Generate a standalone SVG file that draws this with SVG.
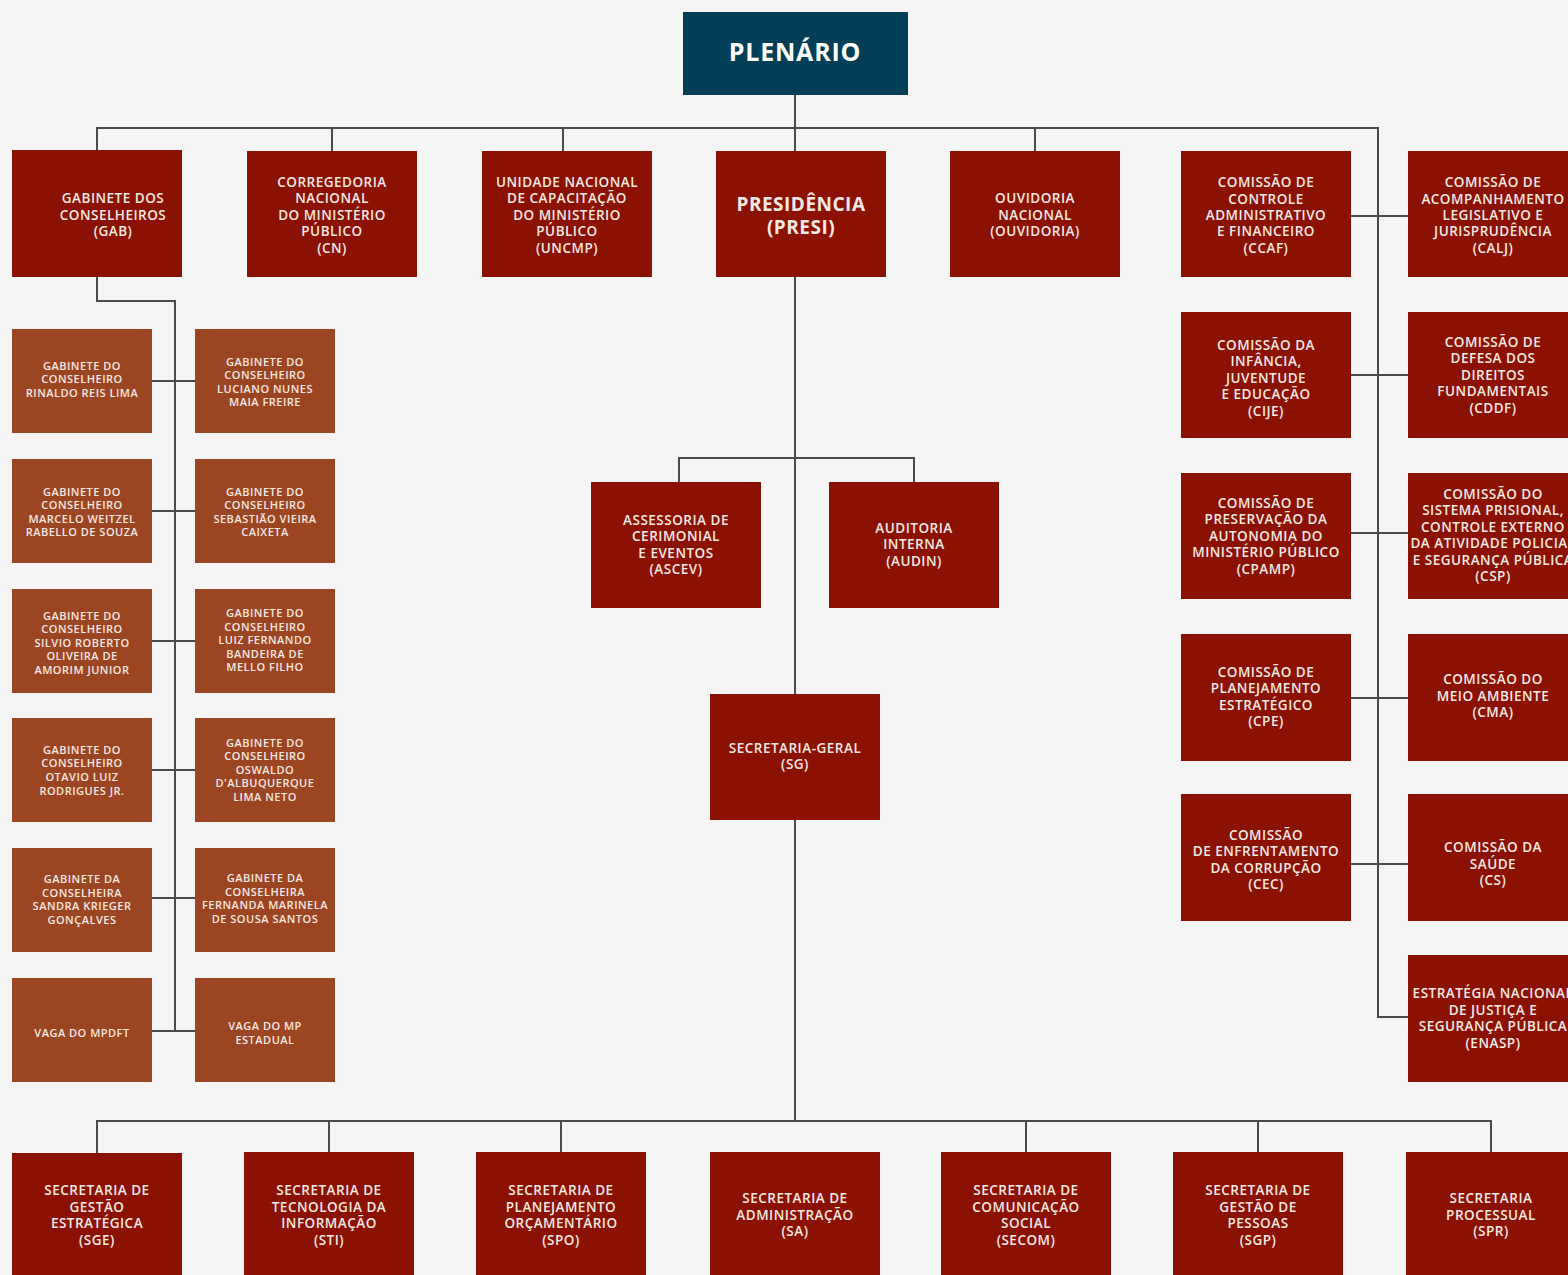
<svg xmlns="http://www.w3.org/2000/svg" width="1568" height="1275" viewBox="0 0 1568 1275">
<style>
.bg{fill:#f5f5f5}
.r{fill:#8b1102}
.g{fill:#9c4522}
.p{fill:#023f56}
.t{font-family:"Open Sans","DejaVu Sans",sans-serif;font-weight:600;fill:#f5e9e4;text-anchor:middle;font-size:13.5px;letter-spacing:0.5px}
.s{font-size:11px;letter-spacing:0.5px}
.b{font-weight:700;font-size:19px;letter-spacing:0.5px}
.pl{font-weight:700;font-size:25px;letter-spacing:0.8px;fill:#ffffff}
.c{fill:none;stroke:#4a4a4a;stroke-width:2}
</style>
<rect class="bg" x="0" y="0" width="1568" height="1275"/>
<g id="connectors">
<path class="c" d="M795 95V151"/>
<path class="c" d="M97 150V128H1378V1017H1408"/>
<path class="c" d="M332 128V151M563 128V151M1035 128V151"/>
<path class="c" d="M1351 216H1408M1351 375H1408M1351 533H1408M1351 698H1408M1351 864H1408"/>
<path class="c" d="M97 277V301H175V1031"/>
<path class="c" d="M152 381H195M152 511H195M152 641H195M152 770H195M152 898H195M152 1031H195"/>
<path class="c" d="M795 277V694M679 482V458H914V482"/>
<path class="c" d="M795 820V1121M97 1153V1121H1491V1152M329 1121V1152M561 1121V1152M1026 1121V1152M1258 1121V1152"/>
</g>
<g id="plenario"><rect class="p" x="683" y="12" width="225" height="83"/><text class="t pl" x="795" y="61">PLENÁRIO</text></g>
<g id="gab"><rect class="r" x="12" y="150" width="170" height="127"/><text class="t"><tspan x="113" y="203">GABINETE DOS</tspan><tspan x="113" y="220">CONSELHEIROS</tspan><tspan x="113" y="236">(GAB)</tspan></text></g>
<g id="cn"><rect class="r" x="247" y="151" width="170" height="126"/><text class="t"><tspan x="332" y="187">CORREGEDORIA</tspan><tspan x="332" y="203">NACIONAL</tspan><tspan x="332" y="220">DO MINISTÉRIO</tspan><tspan x="332" y="236">PÚBLICO</tspan><tspan x="332" y="253">(CN)</tspan></text></g>
<g id="uncmp"><rect class="r" x="482" y="151" width="170" height="126"/><text class="t"><tspan x="567" y="187">UNIDADE NACIONAL</tspan><tspan x="567" y="203">DE CAPACITAÇÃO</tspan><tspan x="567" y="220">DO MINISTÉRIO</tspan><tspan x="567" y="236">PÚBLICO</tspan><tspan x="567" y="253">(UNCMP)</tspan></text></g>
<g id="presi"><rect class="r" x="716" y="151" width="170" height="126"/><text class="t b"><tspan x="801" y="211">PRESIDÊNCIA</tspan><tspan x="801" y="234">(PRESI)</tspan></text></g>
<g id="ouvidoria"><rect class="r" x="950" y="151" width="170" height="126"/><text class="t"><tspan x="1035" y="203">OUVIDORIA</tspan><tspan x="1035" y="220">NACIONAL</tspan><tspan x="1035" y="236">(OUVIDORIA)</tspan></text></g>
<g id="ccaf"><rect class="r" x="1181" y="151" width="170" height="126"/><text class="t"><tspan x="1266" y="187">COMISSÃO DE</tspan><tspan x="1266" y="204">CONTROLE</tspan><tspan x="1266" y="220">ADMINISTRATIVO</tspan><tspan x="1266" y="236">E FINANCEIRO</tspan><tspan x="1266" y="253">(CCAF)</tspan></text></g>
<g id="calj"><rect class="r" x="1408" y="151" width="170" height="126"/><text class="t"><tspan x="1493" y="187">COMISSÃO DE</tspan><tspan x="1493" y="204">ACOMPANHAMENTO</tspan><tspan x="1493" y="220">LEGISLATIVO E</tspan><tspan x="1493" y="236">JURISPRUDÊNCIA</tspan><tspan x="1493" y="253">(CALJ)</tspan></text></g>
<g id="cije"><rect class="r" x="1181" y="312" width="170" height="126"/><text class="t"><tspan x="1266" y="350">COMISSÃO DA</tspan><tspan x="1266" y="366">INFÂNCIA,</tspan><tspan x="1266" y="383">JUVENTUDE</tspan><tspan x="1266" y="399">E EDUCAÇÃO</tspan><tspan x="1266" y="416">(CIJE)</tspan></text></g>
<g id="cddf"><rect class="r" x="1408" y="312" width="170" height="126"/><text class="t"><tspan x="1493" y="347">COMISSÃO DE</tspan><tspan x="1493" y="363">DEFESA DOS</tspan><tspan x="1493" y="380">DIREITOS</tspan><tspan x="1493" y="396">FUNDAMENTAIS</tspan><tspan x="1493" y="413">(CDDF)</tspan></text></g>
<g id="cpamp"><rect class="r" x="1181" y="473" width="170" height="126"/><text class="t"><tspan x="1266" y="508">COMISSÃO DE</tspan><tspan x="1266" y="524">PRESERVAÇÃO DA</tspan><tspan x="1266" y="541">AUTONOMIA DO</tspan><tspan x="1266" y="557">MINISTÉRIO PÚBLICO</tspan><tspan x="1266" y="574">(CPAMP)</tspan></text></g>
<g id="csp"><rect class="r" x="1408" y="473" width="170" height="126"/><text class="t"><tspan x="1493" y="499">COMISSÃO DO</tspan><tspan x="1493" y="515">SISTEMA PRISIONAL,</tspan><tspan x="1493" y="532">CONTROLE EXTERNO</tspan><tspan x="1493" y="548">DA ATIVIDADE POLICIAL</tspan><tspan x="1493" y="565">E SEGURANÇA PÚBLICA</tspan><tspan x="1493" y="581">(CSP)</tspan></text></g>
<g id="cpe"><rect class="r" x="1181" y="634" width="170" height="127"/><text class="t"><tspan x="1266" y="677">COMISSÃO DE</tspan><tspan x="1266" y="693">PLANEJAMENTO</tspan><tspan x="1266" y="710">ESTRATÉGICO</tspan><tspan x="1266" y="726">(CPE)</tspan></text></g>
<g id="cma"><rect class="r" x="1408" y="634" width="170" height="127"/><text class="t"><tspan x="1493" y="684">COMISSÃO DO</tspan><tspan x="1493" y="701">MEIO AMBIENTE</tspan><tspan x="1493" y="717">(CMA)</tspan></text></g>
<g id="cec"><rect class="r" x="1181" y="794" width="170" height="127"/><text class="t"><tspan x="1266" y="840">COMISSÃO</tspan><tspan x="1266" y="856">DE ENFRENTAMENTO</tspan><tspan x="1266" y="873">DA CORRUPÇÃO</tspan><tspan x="1266" y="889">(CEC)</tspan></text></g>
<g id="cs"><rect class="r" x="1408" y="794" width="170" height="127"/><text class="t"><tspan x="1493" y="852">COMISSÃO DA</tspan><tspan x="1493" y="869">SAÚDE</tspan><tspan x="1493" y="885">(CS)</tspan></text></g>
<g id="enasp"><rect class="r" x="1408" y="955" width="170" height="127"/><text class="t"><tspan x="1493" y="998">ESTRATÉGIA NACIONAL</tspan><tspan x="1493" y="1015">DE JUSTIÇA E</tspan><tspan x="1493" y="1031">SEGURANÇA PÚBLICA</tspan><tspan x="1493" y="1048">(ENASP)</tspan></text></g>
<g id="ascev"><rect class="r" x="591" y="482" width="170" height="126"/><text class="t"><tspan x="676" y="525">ASSESSORIA DE</tspan><tspan x="676" y="541">CERIMONIAL</tspan><tspan x="676" y="558">E EVENTOS</tspan><tspan x="676" y="574">(ASCEV)</tspan></text></g>
<g id="audin"><rect class="r" x="829" y="482" width="170" height="126"/><text class="t"><tspan x="914" y="533">AUDITORIA</tspan><tspan x="914" y="549">INTERNA</tspan><tspan x="914" y="566">(AUDIN)</tspan></text></g>
<g id="sg"><rect class="r" x="710" y="694" width="170" height="126"/><text class="t"><tspan x="795" y="753">SECRETARIA-GERAL</tspan><tspan x="795" y="769">(SG)</tspan></text></g>
<g id="gab-rinaldo"><rect class="g" x="12" y="329" width="140" height="104"/><text class="t s"><tspan x="82" y="370">GABINETE DO</tspan><tspan x="82" y="383">CONSELHEIRO</tspan><tspan x="82" y="397">RINALDO REIS LIMA</tspan></text></g>
<g id="gab-luciano"><rect class="g" x="195" y="329" width="140" height="104"/><text class="t s"><tspan x="265" y="366">GABINETE DO</tspan><tspan x="265" y="379">CONSELHEIRO</tspan><tspan x="265" y="393">LUCIANO NUNES</tspan><tspan x="265" y="406">MAIA FREIRE</tspan></text></g>
<g id="gab-marcelo"><rect class="g" x="12" y="459" width="140" height="104"/><text class="t s"><tspan x="82" y="496">GABINETE DO</tspan><tspan x="82" y="509">CONSELHEIRO</tspan><tspan x="82" y="523">MARCELO WEITZEL</tspan><tspan x="82" y="536">RABELLO DE SOUZA</tspan></text></g>
<g id="gab-sebastiao"><rect class="g" x="195" y="459" width="140" height="104"/><text class="t s"><tspan x="265" y="496">GABINETE DO</tspan><tspan x="265" y="509">CONSELHEIRO</tspan><tspan x="265" y="523">SEBASTIÃO VIEIRA</tspan><tspan x="265" y="536">CAIXETA</tspan></text></g>
<g id="gab-silvio"><rect class="g" x="12" y="589" width="140" height="104"/><text class="t s"><tspan x="82" y="620">GABINETE DO</tspan><tspan x="82" y="633">CONSELHEIRO</tspan><tspan x="82" y="647">SILVIO ROBERTO</tspan><tspan x="82" y="660">OLIVEIRA DE</tspan><tspan x="82" y="674">AMORIM JUNIOR</tspan></text></g>
<g id="gab-luiz"><rect class="g" x="195" y="589" width="140" height="104"/><text class="t s"><tspan x="265" y="617">GABINETE DO</tspan><tspan x="265" y="631">CONSELHEIRO</tspan><tspan x="265" y="644">LUIZ FERNANDO</tspan><tspan x="265" y="658">BANDEIRA DE</tspan><tspan x="265" y="671">MELLO FILHO</tspan></text></g>
<g id="gab-otavio"><rect class="g" x="12" y="718" width="140" height="104"/><text class="t s"><tspan x="82" y="754">GABINETE DO</tspan><tspan x="82" y="767">CONSELHEIRO</tspan><tspan x="82" y="781">OTAVIO LUIZ</tspan><tspan x="82" y="795">RODRIGUES JR.</tspan></text></g>
<g id="gab-oswaldo"><rect class="g" x="195" y="718" width="140" height="104"/><text class="t s"><tspan x="265" y="747">GABINETE DO</tspan><tspan x="265" y="760">CONSELHEIRO</tspan><tspan x="265" y="774">OSWALDO</tspan><tspan x="265" y="787">D'ALBUQUERQUE</tspan><tspan x="265" y="801">LIMA NETO</tspan></text></g>
<g id="gab-sandra"><rect class="g" x="12" y="848" width="140" height="104"/><text class="t s"><tspan x="82" y="883">GABINETE DA</tspan><tspan x="82" y="897">CONSELHEIRA</tspan><tspan x="82" y="910">SANDRA KRIEGER</tspan><tspan x="82" y="924">GONÇALVES</tspan></text></g>
<g id="gab-fernanda"><rect class="g" x="195" y="848" width="140" height="104"/><text class="t s"><tspan x="265" y="882">GABINETE DA</tspan><tspan x="265" y="896">CONSELHEIRA</tspan><tspan x="265" y="909">FERNANDA MARINELA</tspan><tspan x="265" y="923">DE SOUSA SANTOS</tspan></text></g>
<g id="vaga-mpdft"><rect class="g" x="12" y="978" width="140" height="104"/><text class="t s"><tspan x="82" y="1037">VAGA DO MPDFT</tspan></text></g>
<g id="vaga-mp-estadual"><rect class="g" x="195" y="978" width="140" height="104"/><text class="t s"><tspan x="265" y="1030">VAGA DO MP</tspan><tspan x="265" y="1044">ESTADUAL</tspan></text></g>
<g id="sge"><rect class="r" x="12" y="1153" width="170" height="130"/><text class="t"><tspan x="97" y="1195">SECRETARIA DE</tspan><tspan x="97" y="1212">GESTÃO</tspan><tspan x="97" y="1228">ESTRATÉGICA</tspan><tspan x="97" y="1245">(SGE)</tspan></text></g>
<g id="sti"><rect class="r" x="244" y="1152" width="170" height="130"/><text class="t"><tspan x="329" y="1195">SECRETARIA DE</tspan><tspan x="329" y="1212">TECNOLOGIA DA</tspan><tspan x="329" y="1228">INFORMAÇÃO</tspan><tspan x="329" y="1245">(STI)</tspan></text></g>
<g id="spo"><rect class="r" x="476" y="1152" width="170" height="130"/><text class="t"><tspan x="561" y="1195">SECRETARIA DE</tspan><tspan x="561" y="1212">PLANEJAMENTO</tspan><tspan x="561" y="1228">ORÇAMENTÁRIO</tspan><tspan x="561" y="1245">(SPO)</tspan></text></g>
<g id="sa"><rect class="r" x="710" y="1152" width="170" height="130"/><text class="t"><tspan x="795" y="1203">SECRETARIA DE</tspan><tspan x="795" y="1220">ADMINISTRAÇÃO</tspan><tspan x="795" y="1236">(SA)</tspan></text></g>
<g id="secom"><rect class="r" x="941" y="1152" width="170" height="130"/><text class="t"><tspan x="1026" y="1195">SECRETARIA DE</tspan><tspan x="1026" y="1212">COMUNICAÇÃO</tspan><tspan x="1026" y="1228">SOCIAL</tspan><tspan x="1026" y="1245">(SECOM)</tspan></text></g>
<g id="sgp"><rect class="r" x="1173" y="1152" width="170" height="130"/><text class="t"><tspan x="1258" y="1195">SECRETARIA DE</tspan><tspan x="1258" y="1212">GESTÃO DE</tspan><tspan x="1258" y="1228">PESSOAS</tspan><tspan x="1258" y="1245">(SGP)</tspan></text></g>
<g id="spr"><rect class="r" x="1406" y="1152" width="170" height="130"/><text class="t"><tspan x="1491" y="1203">SECRETARIA</tspan><tspan x="1491" y="1220">PROCESSUAL</tspan><tspan x="1491" y="1236">(SPR)</tspan></text></g>
</svg>
